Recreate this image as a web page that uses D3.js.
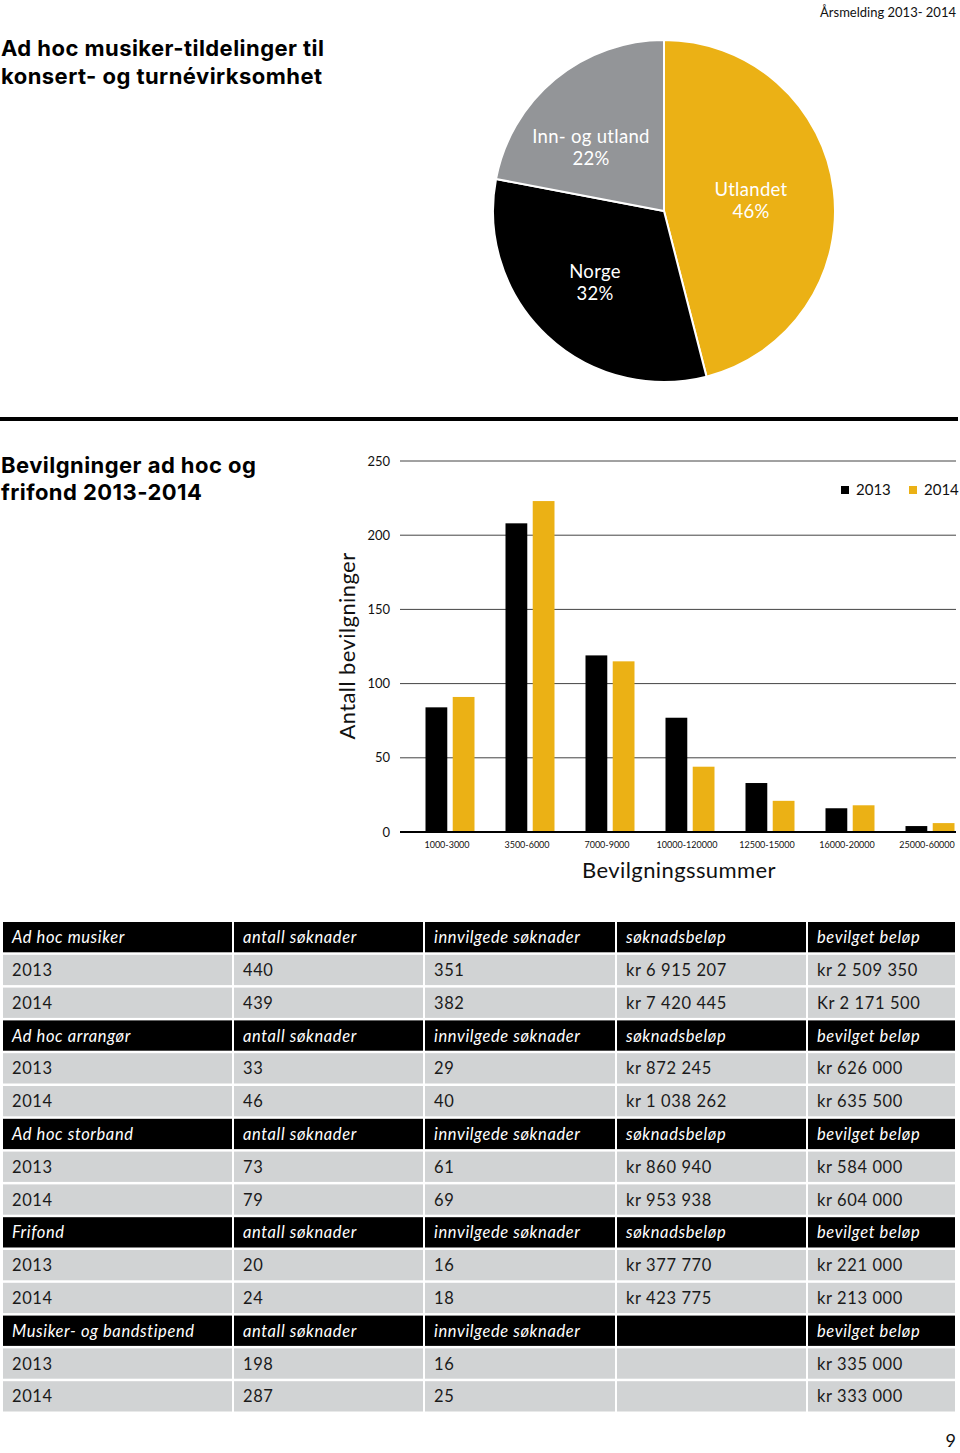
<!DOCTYPE html>
<html>
<head>
<meta charset="utf-8">
<script src="https://cdn.jsdelivr.net/npm/d3@7"></script>
<style>
  html, body { margin: 0; padding: 0; background: #fff; }
  svg { display: block; }
  text { font-family: "Lato", "Noto Sans", sans-serif; }
</style>
</head>
<body>
<script>
// ---------- DATA ----------
const pieLabels = ["Utlandet", "Norge", "Inn- og utland"];
const pieValues = [46, 32, 22];
const pieColors = ["#ebb115", "#000000", "#939598"];

const categories = ["1000-3000", "3500-6000", "7000-9000", "10000-120000", "12500-15000", "16000-20000", "25000-60000"];
const series = ["2013", "2014"];
const values2013 = [84, 208, 119, 77, 33, 16, 4];
const values2014 = [91, 223, 115, 44, 21, 18, 6];
const yTicks = [0, 50, 100, 150, 200, 250];

const tableHeaders = [
  ["Ad hoc musiker", "antall søknader", "innvilgede søknader", "søknadsbeløp", "bevilget beløp"],
  ["Ad hoc arrangør", "antall søknader", "innvilgede søknader", "søknadsbeløp", "bevilget beløp"],
  ["Ad hoc storband", "antall søknader", "innvilgede søknader", "søknadsbeløp", "bevilget beløp"],
  ["Frifond", "antall søknader", "innvilgede søknader", "søknadsbeløp", "bevilget beløp"],
  ["Musiker- og bandstipend", "antall søknader", "innvilgede søknader", "", "bevilget beløp"]
];
const tableRows2013 = [
  ["2013", "440", "351", "kr 6 915 207", "kr 2 509 350"],
  ["2013", "33", "29", "kr 872 245", "kr 626 000"],
  ["2013", "73", "61", "kr 860 940", "kr 584 000"],
  ["2013", "20", "16", "kr 377 770", "kr 221 000"],
  ["2013", "198", "16", "", "kr 335 000"]
];
const tableRows2014 = [
  ["2014", "439", "382", "kr 7 420 445", "Kr 2 171 500"],
  ["2014", "46", "40", "kr 1 038 262", "kr 635 500"],
  ["2014", "79", "69", "kr 953 938", "kr 604 000"],
  ["2014", "24", "18", "kr 423 775", "kr 213 000"],
  ["2014", "287", "25", "", "kr 333 000"]
];

// ---------- SVG ----------
const W = 960, H = 1453;
const svg = d3.select("body").append("svg").attr("width", W).attr("height", H);

const yellow = "#ebb115";

// Header
svg.append("text").attr("x", 956).attr("y", 17).attr("text-anchor", "end")
  .attr("font-size", 13).attr("fill", "#111").text("Årsmelding 2013- 2014");

// Title 1
const t1 = svg.append("text").attr("font-size", 22).attr("font-weight", 700)
  .attr("letter-spacing", 0.45).attr("fill", "#000").style("font-family", "Inter, Roboto, sans-serif");
t1.append("tspan").attr("x", 1).attr("y", 56).text("Ad hoc musiker-tildelinger til");
t1.append("tspan").attr("x", 1).attr("y", 84).text("konsert- og turnévirksomhet");

// ---------- PIE ----------
const cx = 664, cy = 211, R = 171;
const pie = d3.pie().sort(null).value(d => d)(pieValues);
const arc = d3.arc().innerRadius(0).outerRadius(R);
const gPie = svg.append("g").attr("transform", `translate(${cx},${cy})`);
gPie.selectAll("path").data(pie).join("path")
  .attr("d", arc).attr("fill", (d, i) => pieColors[i])
  .attr("stroke", "#fff").attr("stroke-width", 2);

const labelPos = [[87, -15], [-69, 67], [-73, -68]];
pie.forEach((d, i) => {
  const t = gPie.append("text").attr("text-anchor", "middle").attr("fill", "#fff")
    .attr("font-size", 18.5).attr("font-weight", 400).attr("letter-spacing", 0.3);
  t.append("tspan").attr("x", labelPos[i][0]).attr("y", labelPos[i][1]).text(pieLabels[i]);
  t.append("tspan").attr("x", labelPos[i][0]).attr("y", labelPos[i][1] + 22).text(pieValues[i] + "%");
});

// Separator rule
svg.append("rect").attr("x", 0).attr("y", 417).attr("width", 958).attr("height", 4).attr("fill", "#000");

// Title 2
const t2 = svg.append("text").attr("font-size", 22).attr("font-weight", 700)
  .attr("letter-spacing", 0.45).attr("fill", "#000").style("font-family", "Inter, Roboto, sans-serif");
t2.append("tspan").attr("x", 1).attr("y", 473).text("Bevilgninger ad hoc og");
t2.append("tspan").attr("x", 1).attr("y", 500).text("frifond 2013-2014");

// ---------- BAR CHART ----------
const y = d3.scaleLinear().domain([0, 250]).range([832, 461]);
const x0 = d3.scaleBand().domain(categories).range([410, 970]).paddingInner(0.3875).paddingOuter(0.19375);
const x1 = d3.scaleBand().domain(series).range([0, x0.bandwidth()]).paddingInner(0.2);

const gGrid = svg.append("g");
gGrid.selectAll("line").data(yTicks.filter(d => d > 0)).join("line")
  .attr("x1", 400).attr("x2", 956).attr("y1", d => y(d)).attr("y2", d => y(d))
  .attr("stroke", "#444").attr("stroke-width", 1);

svg.append("g").selectAll("text").data(yTicks).join("text")
  .attr("x", 390).attr("y", d => y(d) + 4.5).attr("text-anchor", "end")
  .attr("font-size", 13).attr("fill", "#111").text(d => d);

const barData = categories.map((c, i) => ({ c, v: [values2013[i], values2014[i]] }));
const gBars = svg.append("g");
barData.forEach(d => {
  series.forEach((s, j) => {
    gBars.append("rect")
      .attr("x", x0(d.c) + x1(s)).attr("width", x1.bandwidth())
      .attr("y", y(d.v[j])).attr("height", y(0) - y(d.v[j]))
      .attr("fill", j === 0 ? "#000" : yellow);
  });
});

// zero line
svg.append("line").attr("x1", 400).attr("x2", 956).attr("y1", y(0)).attr("y2", y(0))
  .attr("stroke", "#000").attr("stroke-width", 2);

// x labels
svg.append("g").selectAll("text").data(categories).join("text")
  .attr("x", d => x0(d) + x0.bandwidth() / 2 - 3).attr("y", 848).attr("text-anchor", "middle")
  .attr("font-size", 9).attr("fill", "#111").text(d => d);

svg.append("text").attr("x", 679).attr("y", 878).attr("text-anchor", "middle")
  .attr("font-size", 22).attr("letter-spacing", 0.4).attr("fill", "#111").text("Bevilgningssummer");

svg.append("text").attr("transform", "translate(355,646) rotate(-90)").attr("text-anchor", "middle")
  .attr("font-size", 22).attr("letter-spacing", 0.4).attr("fill", "#111").text("Antall bevilgninger");

// legend
const legX = [841, 909];
series.forEach((s, i) => {
  svg.append("rect").attr("x", legX[i]).attr("y", 486).attr("width", 8).attr("height", 8)
    .attr("fill", i === 0 ? "#000" : yellow);
  svg.append("text").attr("x", legX[i] + 15).attr("y", 495).attr("font-size", 15)
    .attr("fill", "#111").text(s);
});

// ---------- TABLE ----------
const colX = [3, 234, 425, 617, 808];
const colW = [229, 189, 190, 189, 147];
const rowTop = 922, rowStep = 32.8, rowH = 30.3;
const rows = [];
tableHeaders.forEach((h, i) => {
  rows.push({ cells: h, header: true });
  rows.push({ cells: tableRows2013[i], header: false });
  rows.push({ cells: tableRows2014[i], header: false });
});
const gTable = svg.append("g");
rows.forEach((r, ri) => {
  const ty = rowTop + ri * rowStep;
  r.cells.forEach((c, ci) => {
    gTable.append("rect").attr("x", colX[ci]).attr("y", ty).attr("width", colW[ci]).attr("height", rowH)
      .attr("fill", r.header ? "#000" : "#d1d3d4");
    if (c) {
      gTable.append("text").attr("x", colX[ci] + 9).attr("y", ty + rowH / 2 + 6)
        .attr("font-size", 16.5).attr("letter-spacing", 0.6)
        .attr("fill", r.header ? "#fff" : "#1a1a1a")
        .attr("font-style", r.header ? "italic" : "normal").text(c);
    }
  });
});

// page number
svg.append("text").attr("x", 956).attr("y", 1447).attr("text-anchor", "end")
  .attr("font-size", 18).attr("fill", "#111").text("9");
</script>
</body>
</html>
